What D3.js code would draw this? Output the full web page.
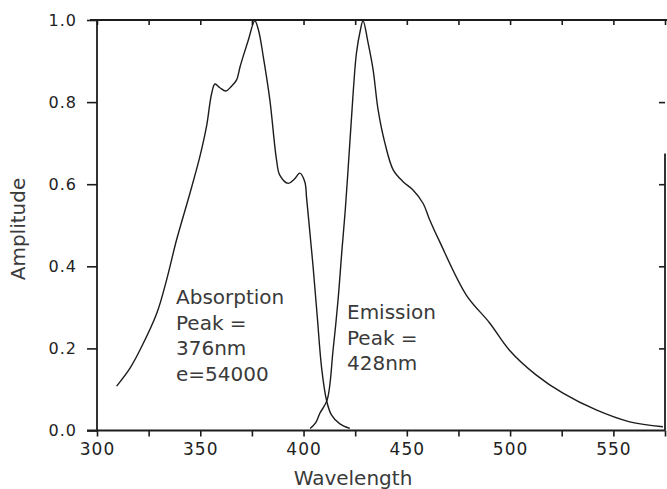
<!DOCTYPE html>
<html>
<head>
<meta charset="utf-8">
<script src="https://cdn.jsdelivr.net/npm/d3@7"></script>
<style>
    body { margin: 0; background: #fff; }
    svg { display: block; }
    .curve { fill: none; stroke: #1c1c1c; stroke-width: 1.4; stroke-linejoin: round; }
    .frame { stroke: #1c1c1c; stroke-width: 1.8; }
    .tick line { stroke: #1c1c1c; stroke-width: 1.6; }
    .tick text { font-family: 'DejaVu Sans', sans-serif; fill: #222; letter-spacing: 1px; }
    .label { font-family: 'DejaVu Sans', sans-serif; fill: #3a3a3a; font-size: 20px; }
</style>
</head>
<body>
<svg width="667" height="489"></svg>
<script>
(function (d3) {
    'use strict';

    // absorption spectrum
    const absWavelength = [309.5, 316, 320.8, 328.9, 333.7, 338.5, 345, 349.8, 353, 355.5, 357.1, 359.5, 362.4, 365, 367.6, 369.2, 370.8, 373.2, 376.4, 378.2, 380.5, 383.7, 386.9, 388.5, 392.6, 395.5, 398.2, 400.6, 401.5, 403.3, 404.6, 406.6, 408.8, 411.1, 413.5, 417.6, 422.4];
    const absAmplitude  = [0.108, 0.152, 0.196, 0.285, 0.367, 0.464, 0.578, 0.667, 0.74, 0.821, 0.844, 0.835, 0.827, 0.838, 0.854, 0.885, 0.912, 0.95, 0.998, 0.975, 0.911, 0.805, 0.66, 0.622, 0.602, 0.612, 0.627, 0.606, 0.565, 0.47, 0.4, 0.28, 0.15, 0.074, 0.038, 0.016, 0.005];

    // emission spectrum
    const emWavelength = [403.2, 406, 407.9, 411.4, 414.3, 416.7, 418.6, 420.2, 422.4, 424, 425.6, 427.5, 428.8, 431.3, 433.7, 436.1, 439.4, 443.4, 448.2, 453, 457.9, 461.1, 465.9, 478.8, 490.1, 499.8, 512.7, 525.6, 541.7, 557.9, 574];
    const emAmplitude  = [0.005, 0.02, 0.042, 0.074, 0.196, 0.318, 0.44, 0.537, 0.70, 0.821, 0.919, 0.975, 0.998, 0.943, 0.878, 0.781, 0.70, 0.635, 0.606, 0.586, 0.553, 0.513, 0.46, 0.33, 0.262, 0.195, 0.135, 0.091, 0.05, 0.021, 0.009];

    const xTicks = d3.range(300, 576, 25);
    const xLabels = [300, 350, 400, 450, 500, 550];
    const yTicks = [0, 0.2, 0.4, 0.6, 0.8, 1.0];
    const yRightTicks = [0.2, 0.4, 0.6, 0.8];

    const absText = ['Absorption', 'Peak =', '376nm', 'e=54000'];
    const emText = ['Emission', 'Peak =', '428nm'];

    const svg = d3.select('svg');

    const x = d3.scaleLinear().domain([300, 575]).range([97, 665]);
    const y = d3.scaleLinear().domain([0, 1]).range([430.5, 20]);

    // axes
    svg.append('g')
        .attr('transform', `translate(0,${y(0)})`)
        .call(d3.axisBottom(x)
            .tickValues(xTicks)
            .tickSize(6)
            .tickPadding(6.5)
            .tickFormat(d => xLabels.includes(d) ? d : ''))
        .call(g => g.select('.domain').remove())
        .call(g => g.selectAll('text').style('font-size', '17px'));

    svg.append('g')
        .attr('transform', `translate(0,${y(1)})`)
        .call(d3.axisTop(x).tickValues(xTicks).tickSize(-5).tickFormat(''))
        .call(g => g.select('.domain').remove());

    svg.append('g')
        .attr('transform', `translate(${x(300)},0)`)
        .call(d3.axisLeft(y)
            .tickValues(yTicks)
            .tickSize(10)
            .tickPadding(10)
            .tickFormat(d3.format('.1f')))
        .call(g => g.select('.domain').remove())
        .call(g => g.selectAll('text').style('font-size', '16px'));

    svg.append('g')
        .attr('transform', `translate(${x(575)},0)`)
        .call(d3.axisRight(y).tickValues(yRightTicks).tickSize(-6).tickFormat(''))
        .call(g => g.select('.domain').remove());

    // frame
    const frame = [
        [x(300) - 10, y(0), x(575), y(0)],
        [x(300) - 7, y(1), x(575) + 2, y(1)],
        [x(300), y(0), x(300), y(1)],
        [x(575), y(0), x(575), y(0.675)]
    ];
    svg.selectAll('line.frame').data(frame)
        .enter().append('line')
        .attr('class', 'frame')
        .attr('x1', d => d[0])
        .attr('y1', d => d[1])
        .attr('x2', d => d[2])
        .attr('y2', d => d[3]);

    // curves
    const line = d3.line()
        .x(d => x(d[0]))
        .y(d => y(d[1]))
        .curve(d3.curveCatmullRom.alpha(0.5));

    svg.append('path')
        .attr('class', 'curve')
        .attr('d', line(d3.zip(absWavelength, absAmplitude)));

    svg.append('path')
        .attr('class', 'curve')
        .attr('d', line(d3.zip(emWavelength, emAmplitude)));

    // annotations
    const annotate = (lines, px, py) => {
        svg.append('text')
            .attr('class', 'label')
            .attr('x', px)
            .attr('y', py)
            .selectAll('tspan').data(lines)
            .enter().append('tspan')
            .attr('x', px)
            .attr('dy', (d, i) => i ? 25.6 : 0)
            .text(d => d);
    };
    annotate(absText, 176, 304);
    annotate(emText, 347, 319);

    svg.append('text')
        .attr('class', 'label')
        .attr('text-anchor', 'middle')
        .attr('x', 353)
        .attr('y', 485)
        .text('Wavelength');

    svg.append('text')
        .attr('class', 'label')
        .attr('text-anchor', 'middle')
        .attr('transform', 'translate(25,229) rotate(-90)')
        .text('Amplitude');

}(d3));
</script>
</body>
</html>
